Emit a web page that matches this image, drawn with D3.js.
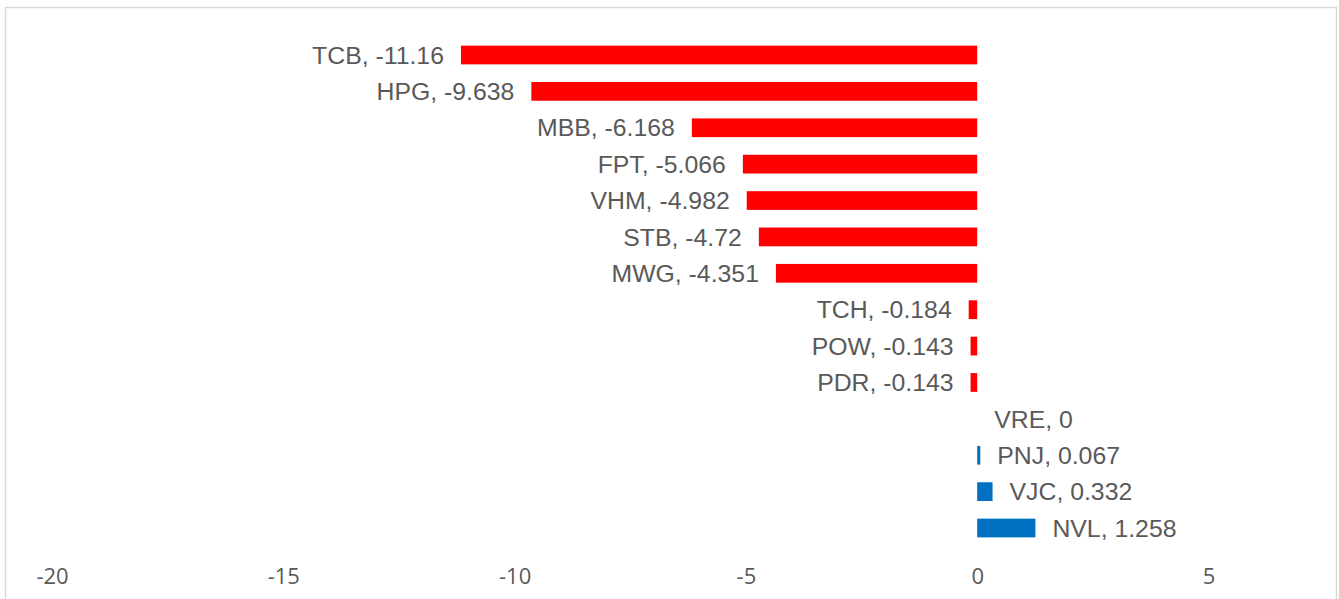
<!DOCTYPE html>
<html><head><meta charset="utf-8">
<script src="https://cdn.jsdelivr.net/npm/d3@7/dist/d3.min.js"></script>
<style>html,body{margin:0;padding:0;background:#fff;}svg{display:block;}</style>
</head><body>
<svg id="chart" width="1339" height="599"></svg>
<script>
const categories = ["TCB","HPG","MBB","FPT","VHM","STB","MWG","TCH","POW","PDR","VRE","PNJ","VJC","NVL"];
const values = [-11.16,-9.638,-6.168,-5.066,-4.982,-4.72,-4.351,-0.184,-0.143,-0.143,0,0.067,0.332,1.258];
const labels = ["-11.16","-9.638","-6.168","-5.066","-4.982","-4.72","-4.351","-0.184","-0.143","-0.143","0","0.067","0.332","1.258"];
const tickValues = [-20,-15,-10,-5,0,5];

const svg = d3.select("#chart");
svg.append("rect").attr("x",5.5).attr("y",7.5).attr("width",1331).attr("height",620)
  .attr("fill","#fff").attr("stroke","#d9d9d9").attr("stroke-width",1.5);

const x = d3.scaleLinear().domain([-20,5]).range([52,1208.5]);
const y = d3.scaleBand().domain(categories).range([36.8,546.2]).paddingInner(0.485).paddingOuter(0.2425);

const data = categories.map((c,i)=>({c, v:values[i], l:labels[i]}));

svg.append("g").selectAll("rect").data(data).join("rect")
  .attr("x", d=>x(Math.min(0,d.v)))
  .attr("y", d=>y(d.c))
  .attr("width", d=>Math.abs(x(d.v)-x(0)))
  .attr("height", y.bandwidth())
  .attr("fill", d=>d.v<0 ? "#FF0000" : "#0070C0");

svg.append("g").selectAll("text").data(data).join("text")
  .attr("x", d=> d.v<0 ? x(d.v)-17 : x(d.v)+17)
  .attr("y", d=>y(d.c)+y.bandwidth()/2)
  .attr("dy","0.35em")
  .attr("text-anchor", d=> d.v<0 ? "end" : "start")
  .attr("font-family","'Liberation Sans', Arial, sans-serif")
  .attr("font-size","24.8px")
  .attr("fill","#595959")
  .text(d=>`${d.c}, ${d.l}`);

const axis = d3.axisBottom(x).tickValues(tickValues).tickSize(0).tickPadding(0).tickFormat(d3.format("d"));
const ag = svg.append("g").attr("transform","translate(0,568)").call(axis);
ag.select(".domain").remove();
ag.selectAll("text").attr("font-family","'Open Sans', sans-serif").attr("font-size","22px")
  .attr("fill","#595959").attr("dy","0").attr("y",16).text(d=> d<0 ? "-"+Math.abs(d) : d);
</script>
</body></html>
